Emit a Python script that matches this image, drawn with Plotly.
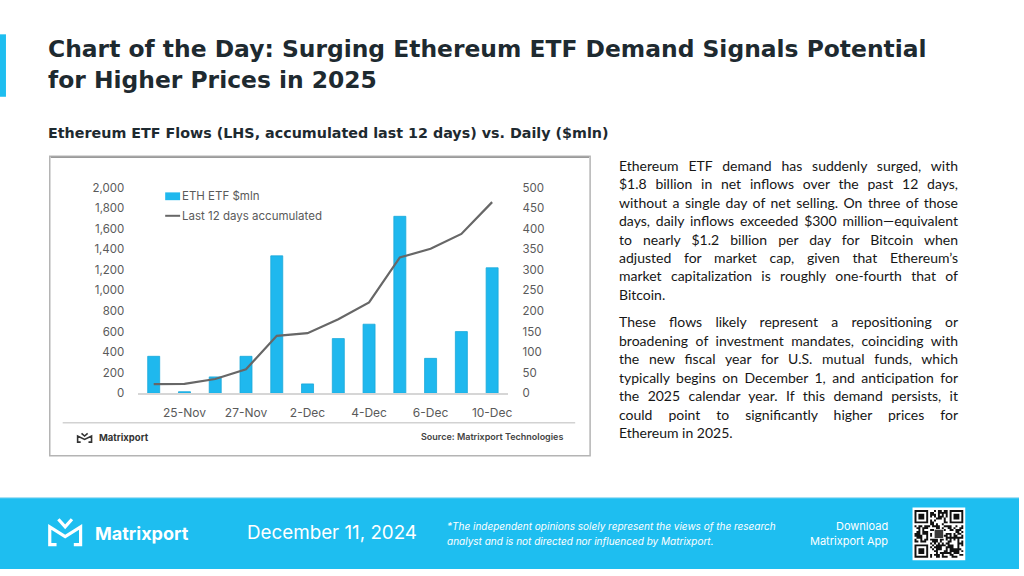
import json
import plotly.graph_objects as go

# ---------------- data ----------------
dates = ["22-Nov", "25-Nov", "26-Nov", "27-Nov", "29-Nov", "2-Dec",
         "3-Dec", "4-Dec", "5-Dec", "6-Dec", "9-Dec", "10-Dec"]
daily_flows = [90, 4, 40, 90, 334, 23, 133, 168, 430, 85, 150, 305]          # RHS, $mln
accumulated = [89, 93, 140, 235, 559, 585, 720, 883, 1320, 1405, 1549, 1858]  # LHS, $mln
tick_dates = ["25-Nov", "27-Nov", "2-Dec", "4-Dec", "6-Dec", "10-Dec"]
left_ticks = [0, 200, 400, 600, 800, 1000, 1200, 1400, 1600, 1800, 2000]
right_ticks = [0, 50, 100, 150, 200, 250, 300, 350, 400, 450, 500]

title_lines = ["Chart of the Day: Surging Ethereum ETF Demand Signals Potential",
               "for Higher Prices in 2025"]
subtitle = "Ethereum ETF Flows (LHS, accumulated last 12 days) vs. Daily ($mln)"
para1 = ["Ethereum ETF demand has suddenly surged, with",
         "$1.8 billion in net inflows over the past 12 days,",
         "without a single day of net selling. On three of those",
         "days, daily inflows exceeded $300 million\u2014equivalent",
         "to nearly $1.2 billion per day for Bitcoin when",
         "adjusted for market cap, given that Ethereum\u2019s",
         "market capitalization is roughly one-fourth that of",
         "Bitcoin."]
para2 = ["These flows likely represent a repositioning or",
         "broadening of investment mandates, coinciding with",
         "the new fiscal year for U.S. mutual funds, which",
         "typically begins on December 1, and anticipation for",
         "the 2025 calendar year. If this demand persists, it",
         "could point to significantly higher prices for",
         "Ethereum in 2025."]

# ---------------- helpers ----------------
W, H = 1024, 576
def X(px): return px / W
def Y(py): return 1 - py / H

BLUE = "#1EBEF0"
BAR_BLUE = "#1FB8EE"
DARK = "#1E2A30"
GREY_TXT = "#5a5a5a"
TFONT = "Inter"
HFONT = "DejaVu Sans"
BFONT = "Lato"

annotations = []
shapes = []

def txt(s, x, y, size, color, xanchor="left", family=TFONT, weight="normal", style="normal"):
    annotations.append(dict(text=s, x=X(x), y=Y(y), xref="paper", yref="paper",
                            xanchor=xanchor, yanchor="middle", showarrow=False,
                            align=xanchor, borderpad=0,
                            font=dict(family=family, size=size, color=color,
                                      weight=weight, style=style)))
    return len(annotations) - 1

def rect(x0, y0, x1, y1, fill, line_color=None, lw=0, layer="above"):
    shapes.append(dict(type="rect", xref="paper", yref="paper",
                       x0=X(x0), x1=X(x1), y0=Y(y1), y1=Y(y0),
                       fillcolor=fill, layer=layer,
                       line=dict(color=line_color or fill, width=lw)))

def line(x0, y0, x1, y1, color, lw):
    shapes.append(dict(type="line", xref="paper", yref="paper",
                       x0=X(x0), x1=X(x1), y0=Y(y0), y1=Y(y1),
                       line=dict(color=color, width=lw)))

def pts(points):
    return " L".join(f"{X(a):.5f},{Y(b):.5f}" for a, b in points)

def logo(x0, y0, x1, y1, color, lw):
    w, h = x1 - x0, y1 - y0
    xm = (x0 + x1) / 2
    p1 = "M" + pts([(x0 + 0.22 * w, y1), (x0, y1), (x0, y0 + 0.3 * h), (xm, y0 + 0.68 * h),
                    (x1, y0 + 0.3 * h), (x1, y1), (x1 - 0.22 * w, y1)])
    p2 = "M" + pts([(x0 + 0.28 * w, y0), (xm, y0 + 0.3 * h), (x1 - 0.28 * w, y0)])
    for p in (p1, p2):
        shapes.append(dict(type="path", path=p, xref="paper", yref="paper",
                           fillcolor="rgba(0,0,0,0)", line=dict(color=color, width=lw)))

# ---------------- traces ----------------
fig = go.Figure()
fig.add_trace(go.Bar(x=dates, y=daily_flows, name="ETH ETF $mln", yaxis="y",
                     width=0.39, showlegend=False,
                     marker=dict(color=BAR_BLUE, line=dict(color="#19a8d9", width=0.8))))
fig.add_trace(go.Scatter(x=dates, y=accumulated, name="Last 12 days accumulated",
                         yaxis="y2", mode="lines", showlegend=False,
                         line=dict(color="#676767", width=2.2)))

tick_font = dict(family=TFONT, size=11.5, color=GREY_TXT)
ydom = [Y(396), Y(185)]

# ---------------- decoration ----------------
rect(0, 28, 6, 92, BLUE)
rect(50, 153, 593, 460, "white", "#b4b4b4", 1.5, layer="below")
line(51, 154, 592, 154, "#9a9a9a", 1.5)
line(63, 426, 578, 426, "#d2d2d2", 1.5)
# manual legend
rect(166, 190, 181, 198, BAR_BLUE)
line(166, 214, 181, 214, "#676767", 2)
txt("ETH ETF $mln", 182, 194, 11.5, GREY_TXT)
txt("Last 12 days accumulated", 182, 214, 11.5, GREY_TXT)
# card footer
logo(78, 437, 92, 446, "#333333", 1.6)
txt("Matrixport", 98, 441, 9.5, "#333333", weight="bold")
txt("Source: Matrixport Technologies", 567, 440, 9, "#444444", xanchor="right", weight=600)

# titles
txt(title_lines[0], 47, 43, 23.4, DARK, family=HFONT, weight="bold")
txt(title_lines[1], 47, 75, 23.4, DARK, family=HFONT, weight="bold")
txt(subtitle, 47, 129, 14.3, DARK, family=HFONT, weight="bold")

# body text
justify_idx = []
for i, s in enumerate(para1):
    k = txt(s, 621, 162 + 18.95 * i, 14, "#161616", family=BFONT)
    if i < len(para1) - 1:
        justify_idx.append(k)
for i, s in enumerate(para2):
    k = txt(s, 621, 322.5 + 18.95 * i, 14, "#161616", family=BFONT)
    if i < len(para2) - 1:
        justify_idx.append(k)

# bottom banner
rect(0, 503, 1024, 576, BLUE)
line(0, 503, 1024, 503, "#9fdcf2", 1)
logo(50, 525, 81, 551, "white", 3.2)
txt("Matrixport", 94, 540, 18, "white", weight="bold")
txt("December 11, 2024", 247, 539, 18.8, "white")
txt("*The independent opinions solely represent the views of the research", 448, 532, 10, "white", style="italic")
txt("analyst and is not directed nor influenced by Matrixport.", 448, 547, 10, "white", style="italic")
txt("Download", 893, 532, 11, "white", xanchor="right")
txt("Matrixport App", 893, 547, 11, "white", xanchor="right")

# QR-code-like badge
qx0, qy0, qx1, qy1 = 917, 513, 970, 567
rect(qx0, qy0, qx1, qy1, "white")
n = 25
m = (qx1 - qx0 - 4) / n
ox, oy = qx0 + 2, qy0 + 2.5
seed = "https://www.matrixport.com/download?app=matrixport&ref=chart-of-the-day"
cells = []
def finder(cx, cy):
    out = []
    for r in range(7):
        for c in range(7):
            if r in (0, 6) or c in (0, 6) or (2 <= r <= 4 and 2 <= c <= 4):
                out.append((cy + r, cx + c))
    return out
fcells = set(finder(0, 0) + finder(n - 7, 0) + finder(0, n - 7))
reserved = set()
for (r0, c0) in [(0, 0), (0, n - 8), (n - 8, 0)]:
    for r in range(r0, r0 + 8):
        for c in range(c0, c0 + 8):
            reserved.add((r, c))
k = 0
for r in range(n):
    for c in range(n):
        if (r, c) in reserved:
            continue
        if 10 <= r <= 14 and 10 <= c <= 14:
            continue
        b = ord(seed[k % len(seed)])
        if ((b >> (k % 7)) ^ (r * c)) & 1:
            cells.append((r, c))
        k += 1
cells += list(fcells)
path = ""
for r, c in cells:
    x0 = ox + c * m; y0 = oy + r * m
    path += f"M{X(x0):.5f},{Y(y0):.5f} L{X(x0 + m):.5f},{Y(y0):.5f} L{X(x0 + m):.5f},{Y(y0 + m):.5f} L{X(x0):.5f},{Y(y0 + m):.5f} Z "
shapes.append(dict(type="path", path=path, xref="paper", yref="paper",
                   fillcolor="#111111", line=dict(width=0)))
rect(ox + 10.3 * m, oy + 10.3 * m, ox + 14.7 * m, oy + 14.7 * m, "#3a3a3a")

fig.update_layout(
    width=W, height=H, margin=dict(l=0, r=0, t=0, b=0),
    paper_bgcolor="white", plot_bgcolor="rgba(0,0,0,0)",
    showlegend=False, bargap=0.6,
    xaxis=dict(domain=[X(139), X(510)], type="category", tickmode="array",
               tickvals=tick_dates, ticktext=tick_dates, showline=True,
               linecolor="#d6d6d6", linewidth=1.5, showgrid=False, zeroline=False,
               ticks="", tickfont=dict(family=TFONT, size=12, color=GREY_TXT),
               ticklabelstandoff=7, fixedrange=True),
    yaxis=dict(domain=ydom, range=[0, 500], side="right", tickmode="array",
               tickvals=right_ticks, showgrid=False, zeroline=False, showline=False,
               ticks="", tickfont=tick_font, ticklabelstandoff=14, fixedrange=True),
    yaxis2=dict(range=[0, 2000], side="left", overlaying="y", anchor="x",
                tickmode="array", tickvals=left_ticks, tickformat=",",
                showgrid=False, zeroline=False, showline=False, ticks="",
                tickfont=tick_font, ticklabelstandoff=13, fixedrange=True),
    annotations=annotations, shapes=shapes,
)

js = """
var gd = document.getElementById('{plot_id}');
var idx = %s;
var target = %f;
idx.forEach(function(i){
  var t = gd.querySelector('g.annotation[data-index="' + i + '"] text.annotation-text');
  if (!t) return;
  var w = t.getComputedTextLength();
  var s = (t.textContent.match(/ /g) || []).length;
  if (s > 0) { t.style.wordSpacing = ((target - w) / s) + 'px'; }
});
""" % (json.dumps(justify_idx), 960 - 621)

fig.write_html("out.html", post_script=js, config={"displayModeBar": False})
